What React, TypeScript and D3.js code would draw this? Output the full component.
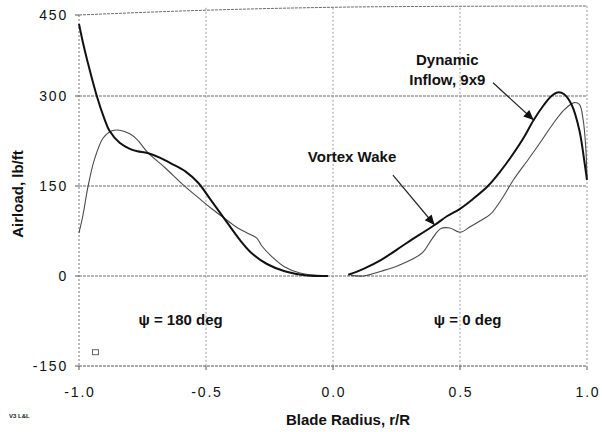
import React from "react";
import * as d3 from "d3";

// ---- data ----
const xTicks = [-1.0, -0.5, 0.0, 0.5, 1.0];
const yTicks = [-150, 0, 150, 300, 450];

// Thick curve (Dynamic Inflow), psi = 180 deg half
const aLeftR = [-1.0, -0.985, -0.965, -0.93, -0.9, -0.88, -0.84, -0.8, -0.77, -0.73, -0.68, -0.64, -0.58, -0.53, -0.48, -0.43, -0.37, -0.32, -0.26, -0.19, -0.1, -0.02];
const aLeftV = [420, 390, 355, 300, 262, 242, 222, 212, 208, 205, 197, 188, 174, 155, 126, 97, 62, 38, 20, 8, 1, 0];
// Thick curve, psi = 0 deg half
const aRightR = [0.06, 0.12, 0.19, 0.29, 0.4, 0.45, 0.5, 0.55, 0.61, 0.66, 0.7, 0.75, 0.79, 0.83, 0.86, 0.885, 0.91, 0.94, 0.97, 0.99, 1.0];
const aRightV = [2, 12, 27, 55, 85, 100, 112, 128, 150, 175, 198, 230, 260, 285, 300, 306, 303, 285, 243, 190, 160];

// Thin curve (Vortex Wake), psi = 180 deg half
const bLeftR = [-1.0, -0.985, -0.965, -0.94, -0.905, -0.87, -0.84, -0.8, -0.77, -0.73, -0.66, -0.59, -0.52, -0.48, -0.43, -0.375, -0.33, -0.3, -0.28, -0.24, -0.19, -0.13, -0.06, -0.02];
const bLeftV = [72, 100, 148, 193, 230, 242, 243, 237, 227, 206, 180, 152, 127, 113, 97, 80, 70, 63, 50, 32, 15, 5, 1, 0];
// Thin curve, psi = 0 deg half
const bRightR = [0.07, 0.12, 0.19, 0.26, 0.35, 0.39, 0.425, 0.46, 0.5, 0.54, 0.58, 0.62, 0.67, 0.71, 0.77, 0.82, 0.86, 0.91, 0.95, 0.97, 0.985, 0.995, 1.0];
const bRightV = [1, 0, 8, 18, 38, 62, 79, 80, 73, 82, 92, 103, 132, 160, 195, 225, 250, 277, 289, 286, 260, 215, 165];

// Annotations (data coordinates)
const annotTexts = [["Dynamic", "Inflow, 9x9"], ["Vortex Wake"]];
const annotTextR = [0.45, 0.075];
const annotTextV = [352, 190];
const arrowFromR = [0.63, 0.236];
const arrowFromV = [322, 168];
const arrowToR = [0.79, 0.4];
const arrowToV = [260, 85];

const phaseLabels = ["\u03C8 = 180 deg", "\u03C8 = 0 deg"];
const phaseR = [-0.6, 0.53];
const phaseV = [-82, -82];

// small hollow marker near the lower-left corner
const markerR = [-0.935];
const markerV = [-127];

// warped top frame line of the scan (data coords)
const topFrameR = [-1.0, -0.5, 0.25, 1.0];
const topFrameV = [435, 443, 449, 450];

const W = 602;
const H = 432;

export default function App() {
  const x = d3.scaleLinear().domain([-1, 1]).range([79, 587]);
  const y = d3.scaleLinear().domain([-150, 450]).range([366, 6]);

  const line = d3
    .line<[number, number]>()
    .x((d) => x(d[0]))
    .y((d) => y(d[1]))
    .curve(d3.curveCatmullRom.alpha(0.5));

  const zip = (r: number[], v: number[]) => r.map((d, i) => [d, v[i]] as [number, number]);

  const topLine = d3
    .line<[number, number]>()
    .x((d) => x(d[0]))
    .y((d) => y(d[1]))
    .curve(d3.curveMonotoneX)(zip(topFrameR, topFrameV));

  const font = "'Liberation Sans', Arial, Helvetica, sans-serif";
  const gridColor = "#6a6a6a";

  const arrowHead = (x1: number, y1: number, x2: number, y2: number) => {
    const ang = Math.atan2(y2 - y1, x2 - x1);
    const len = 10;
    const wid = 4.5;
    const bx = x2 - len * Math.cos(ang);
    const by = y2 - len * Math.sin(ang);
    const px = -Math.sin(ang) * wid;
    const py = Math.cos(ang) * wid;
    return `M${x2},${y2}L${bx + px},${by + py}L${bx - px},${by - py}Z`;
  };

  return (
    <div style={{ position: "fixed", left: 0, top: 0, width: W, height: H, background: "#fff" }}>
      <svg width={W} height={H} style={{ display: "block" }}>
        <rect x={0} y={0} width={W} height={H} fill="#fff" />
        {/* horizontal gridlines */}
        {yTicks.filter((t) => t < 450).map((t) => (
          <line
            key={"h" + t}
            x1={x(-1)}
            x2={x(1)}
            y1={y(t)}
            y2={y(t)}
            stroke={t === -150 ? "#555" : gridColor}
            strokeWidth={1}
            strokeDasharray="3 1"
          />
        ))}
        {/* warped top frame */}
        <path d={topLine || ""} fill="none" stroke={gridColor} strokeWidth={1} strokeDasharray="3 1" />
        {/* vertical gridlines */}
        {xTicks.map((t) => (
          <line
            key={"v" + t}
            x1={x(t)}
            x2={x(t)}
            y1={t === -1 ? y(435) : t === 1 ? y(450) : y(447)}
            y2={y(-150)}
            stroke={t === -1 ? "#777" : "#999"}
            strokeWidth={1}
            strokeDasharray="2 2"
          />
        ))}
        {/* y ticks */}
        {yTicks.map((t) => (
          <line key={"yt" + t} x1={x(-1) - 4} x2={x(-1)} y1={t === 450 ? y(435) : y(t)} y2={t === 450 ? y(435) : y(t)} stroke="#555" />
        ))}
        {/* x ticks */}
        {xTicks.map((t) => (
          <line key={"xt" + t} x1={x(t)} x2={x(t)} y1={y(-150)} y2={y(-150) + 4} stroke="#555" />
        ))}
        {/* y tick labels */}
        {yTicks.map((t) => (
          <text
            key={"yl" + t}
            x={68}
            y={(t === 450 ? y(435) : y(t)) + 5}
            textAnchor="end"
            fontFamily={font}
            fontSize={14}
            letterSpacing={1.8}
            fill="#111"
          >
            {t}
          </text>
        ))}
        {/* x tick labels */}
        {xTicks.map((t) => (
          <text
            key={"xl" + t}
            x={x(t) + 1}
            y={397}
            textAnchor="middle"
            fontFamily={font}
            fontSize={14}
            letterSpacing={1.8}
            fill="#111"
          >
            {t.toFixed(1)}
          </text>
        ))}

        {/* curves */}
        <path d={line(zip(bLeftR, bLeftV)) || ""} fill="none" stroke="#4a4a4a" strokeWidth={1.1} />
        <path d={line(zip(bRightR, bRightV)) || ""} fill="none" stroke="#4a4a4a" strokeWidth={1.1} />
        <path d={line(zip(aLeftR, aLeftV)) || ""} fill="none" stroke="#111" strokeWidth={2} />
        <path d={line(zip(aRightR, aRightV)) || ""} fill="none" stroke="#111" strokeWidth={2} />

        {/* marker */}
        {markerR.map((r, i) => (
          <rect key={"m" + i} x={x(r) - 3} y={y(markerV[i]) - 2.5} width={6} height={5} fill="none" stroke="#555" strokeWidth={0.9} />
        ))}

        {/* annotations */}
        {annotTexts.map((lines, i) => (
          <g key={"a" + i}>
            {lines.map((s, j) => (
              <text
                key={j}
                x={x(annotTextR[i])}
                y={y(annotTextV[i]) + j * 20}
                textAnchor="middle"
                fontFamily={font}
                fontWeight="bold"
                fontSize={15}
                fill="#111"
              >
                {s}
              </text>
            ))}
            <line
              x1={x(arrowFromR[i])}
              y1={y(arrowFromV[i])}
              x2={x(arrowToR[i])}
              y2={y(arrowToV[i])}
              stroke="#222"
              strokeWidth={1.2}
            />
            <path
              d={arrowHead(x(arrowFromR[i]), y(arrowFromV[i]), x(arrowToR[i]), y(arrowToV[i]))}
              fill="#111"
            />
          </g>
        ))}

        {/* phase labels */}
        {phaseLabels.map((s, i) => (
          <text
            key={"p" + i}
            x={x(phaseR[i])}
            y={y(phaseV[i])}
            textAnchor="middle"
            fontFamily={font}
            fontWeight="bold"
            fontSize={15}
            fill="#111"
          >
            {s}
          </text>
        ))}

        {/* axis titles */}
        <text
          x={348}
          y={425}
          textAnchor="middle"
          fontFamily={font}
          fontWeight="bold"
          fontSize={15}
          fill="#111"
        >
          Blade Radius, r/R
        </text>
        <text
          transform="translate(23,194) rotate(-90)"
          textAnchor="middle"
          fontFamily={font}
          fontWeight="bold"
          fontSize={15}
          fill="#111"
        >
          Airload, lb/ft
        </text>
        <text x={9} y={418} fontFamily={font} fontWeight="bold" fontSize={6} fill="#222">
          V3 L&amp;L
        </text>
      </svg>
    </div>
  );
}
